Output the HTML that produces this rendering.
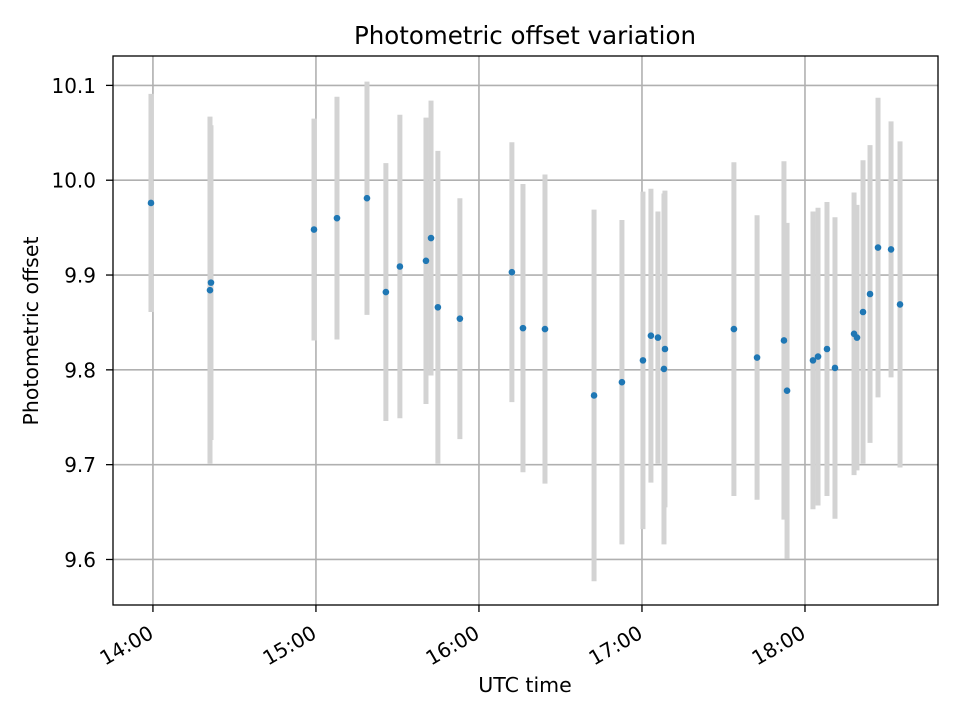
<!DOCTYPE html>
<html><head><meta charset="utf-8"><style>
body{margin:0;background:#fff;}
svg text{font-family:"DejaVu Sans","Liberation Sans",sans-serif;fill:#000;}
</style></head><body>
<svg id="chart" width="960" height="720" xmlns="http://www.w3.org/2000/svg">
<rect width="960" height="720" fill="#fff"/>
<g id="grid"></g>
<g id="bars"></g>
<g id="pts"></g>
<g id="axes"></g>
<rect x="113" y="56" width="825" height="549" fill="none" stroke="#000" stroke-width="1.3"/>
<text x="525" y="44" font-size="24.5" text-anchor="middle">Photometric offset variation</text>
<text x="525" y="692" font-size="20.5" text-anchor="middle">UTC time</text>
<text x="38" y="331" font-size="20.5" text-anchor="middle" transform="rotate(-90 38 331)">Photometric offset</text>
</svg>
<script>
const times=[13.988,14.350,14.356,14.988,15.129,15.313,15.429,15.515,15.675,15.706,15.748,15.883,16.202,16.270,16.405,16.706,16.877,17.006,17.055,17.098,17.141,17.135,17.564,17.706,17.871,17.890,18.049,18.080,18.135,18.184,18.301,18.319,18.356,18.399,18.448,18.528,18.583];
const values=[9.976,9.884,9.892,9.948,9.960,9.981,9.882,9.909,9.915,9.939,9.866,9.854,9.903,9.844,9.843,9.773,9.787,9.810,9.836,9.834,9.822,9.801,9.843,9.813,9.831,9.778,9.810,9.814,9.822,9.802,9.838,9.834,9.861,9.880,9.929,9.927,9.869];
const errors=[0.115,0.183,0.166,0.117,0.128,0.123,0.136,0.160,0.151,0.145,0.165,0.127,0.137,0.152,0.163,0.196,0.171,0.178,0.155,0.133,0.167,0.185,0.176,0.150,0.189,0.177,0.157,0.157,0.155,0.159,0.149,0.140,0.160,0.157,0.158,0.135,0.172];
const xTicks=[14,15,16,17,18];
const xTickLabels=["14:00","15:00","16:00","17:00","18:00"];
const yTicks=[9.6,9.7,9.8,9.9,10.0,10.1];
const yTickLabels=["9.6","9.7","9.8","9.9","10.0","10.1"];
const X0=113,X1=938,Y0=605,Y1=56,XMIN=13.755,XMAX=18.816,YMIN=9.552,YMAX=10.131;
const xs=t=>X0+(t-XMIN)/(XMAX-XMIN)*(X1-X0);
const ys=v=>Y0-(v-YMIN)/(YMAX-YMIN)*(Y0-Y1);
const NS="http://www.w3.org/2000/svg";
function mk(tag,parent,attrs){const e=document.createElementNS(NS,tag);for(const k in attrs)e.setAttribute(k,attrs[k]);parent.appendChild(e);return e;}
const grid=document.getElementById('grid'),bars=document.getElementById('bars'),pts=document.getElementById('pts'),axes=document.getElementById('axes');
xTicks.forEach((t,i)=>{const x=xs(t);
 const g=mk('line',grid,{x1:x,x2:x,y1:Y1,y2:Y0,stroke:'#b0b0b0','stroke-width':1.6});
 
 
 const tk=mk('line',axes,{x1:x,x2:x,y1:Y0,y2:Y0+7,stroke:'#000','stroke-width':1.3});
 
 
 const ax=x+2,ay=Y0+32;
 const tx=mk('text',axes,{x:ax,y:ay,'font-size':20,'text-anchor':'end',transform:`rotate(-30 ${ax} ${ay})`});
 tx.textContent=xTickLabels[i];
 
 
});
yTicks.forEach((v,i)=>{const y=ys(v);
 const g=mk('line',grid,{x1:X0,x2:X1,y1:y,y2:y,stroke:'#b0b0b0','stroke-width':1.6});
 
 
 const tk=mk('line',axes,{x1:X0-7,x2:X0,y1:y,y2:y,stroke:'#000','stroke-width':1.3});
 
 
 const tx=mk('text',axes,{x:X0-17,y:y+7.5,'font-size':20,'text-anchor':'end'});
 tx.textContent=yTickLabels[i];
 
 
});
times.forEach((t,i)=>{const x=xs(t);
 const b=mk('line',bars,{x1:x,x2:x,y1:ys(values[i]+errors[i]),y2:ys(values[i]-errors[i]),stroke:'#d3d3d3','stroke-width':5});
 
 
});
times.forEach((t,i)=>{
 const c=mk('circle',pts,{cx:xs(t),cy:ys(values[i]),r:3.3,fill:'#1f77b4'});
 
 
});
</script>
</body></html>
